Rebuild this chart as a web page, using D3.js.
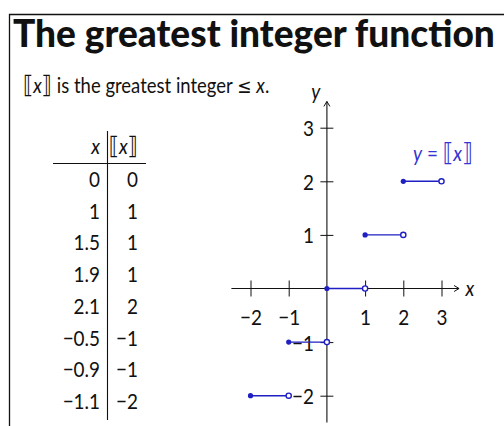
<!DOCTYPE html>
<html>
<head>
<meta charset="utf-8">
<script src="https://cdn.jsdelivr.net/npm/d3@7"></script>
<style>
  html, body { margin: 0; padding: 0; background: #fff; }
  svg { display: block; }
  text { font-family: Lato, "Open Sans", sans-serif; fill: #111; }
</style>
</head>
<body>
<svg id="chart" width="504" height="426"></svg>
<script>
// Table of sample inputs and their floor values
const tableX = [0, 1, 1.5, 1.9, 2.1, -0.5, -0.9, -1.1];
const tableFloor = [0, 1, 1, 1, 2, -1, -1, -2];

// Step pieces of y = [[x]]: each piece runs on [start, start + 1) at height level
const stepStart = [-2, -1, 0, 1, 2];
const stepLevel = [-2, -1, 0, 1, 2];

// Axis tick labels
const xTicks = [-2, -1, 1, 2, 3];
const yTicks = [-2, -1, 1, 2, 3];

const blue = "#1f1fc4";
const SX = 0.86;          // horizontal squeeze for a narrow, tall text face
const FS = 22;            // base font size for math / table text
const svg = d3.select("#chart");
const fmt = d3.format("");

// places a squeezed text element at (px, py)
function squeezed(parent, px, py, anchor) {
  return parent.append("text")
    .attr("transform", `translate(${px},${py}) scale(${SX},1)`)
    .attr("text-anchor", anchor || "start")
    .attr("font-size", FS);
}
function brackets(t, inner, size) {
  t.append("tspan").text("⟦").style("font-family", "DejaVu Sans").attr("font-size", size);
  t.append("tspan").text(inner).attr("font-style", "italic");
  t.append("tspan").text("⟧").style("font-family", "DejaVu Sans").attr("font-size", size);
}

// frame
svg.append("path").attr("d", "M9.5,426 V14.5 H504")
  .attr("fill", "none").attr("stroke", "#111").attr("stroke-width", 1.3);

// title, scaled horizontally to span the frame width
const title = svg.append("text").attr("x", 0).attr("y", 0)
  .attr("font-size", 38).attr("font-weight", 900)
  .style("font-family", "Lato, sans-serif")
  .text("The greatest integer function");
const titleW = title.node().getComputedTextLength();
title.attr("transform", `translate(13,47) scale(${Math.min(1.2, 482 / titleW)},1)`);

// definition line
const def = squeezed(svg, 23, 93).attr("font-size", 21.5);
brackets(def, "x", 24);
def.append("tspan").text(" is the greatest integer ");
def.append("tspan").text("≤").style("font-family", "DejaVu Sans").attr("font-size", 20);
def.append("tspan").text(" ");
def.append("tspan").text("x").attr("font-style", "italic");
def.append("tspan").text(".");

// ---- table ----
const rowY = d3.scalePoint().domain(d3.range(tableX.length)).range([187, 409]);
const colX = 100, colF = 138, divX = 107.5;
const table = svg.append("g");

table.append("line").attr("x1", divX).attr("x2", divX).attr("y1", 131).attr("y2", 420)
  .attr("stroke", "#111").attr("stroke-width", 1.1);
table.append("line").attr("x1", 53).attr("x2", 146).attr("y1", 163.5).attr("y2", 163.5)
  .attr("stroke", "#111").attr("stroke-width", 1.1);

squeezed(table, colX, 154, "end").attr("font-style", "italic").text("x");
brackets(squeezed(table, colF, 154, "end"), "x", 24);

tableX.forEach((d, i) => squeezed(table, colX, rowY(i), "end").text(fmt(d)));
tableFloor.forEach((d, i) => squeezed(table, colF, rowY(i), "end").text(fmt(d)));

// ---- graph ----
const x = d3.scaleLinear().domain([-2, 3]).range([250.5, 441.5]);
const y = d3.scaleLinear().domain([-2, 3]).range([395.7, 127.7]);
const g = svg.append("g");

// x axis
const xAxis = g.append("g").attr("transform", `translate(0,${y(0)})`)
  .call(d3.axisBottom(x).tickValues(xTicks).tickSize(8).tickFormat(fmt));
xAxis.select(".domain").remove();
xAxis.selectAll(".tick line").attr("y1", -8).attr("y2", 8).attr("stroke", "#111");
xAxis.selectAll(".tick text").attr("y", 0).attr("dy", 0)
  .attr("transform", `translate(0,36) scale(${SX},1)`)
  .attr("font-size", FS).attr("fill", "#111")
  .style("font-family", "Lato, sans-serif");
g.append("line").attr("x1", x(-2.5)).attr("x2", x(3.46)).attr("y1", y(0)).attr("y2", y(0))
  .attr("stroke", "#111").attr("stroke-width", 1.1);
g.append("path")
  .attr("d", `M${x(3.46) - 5},${y(0) - 3} L${x(3.46)},${y(0)} L${x(3.46) - 5},${y(0) + 3}`)
  .attr("fill", "none").attr("stroke", "#111").attr("stroke-width", 1);
squeezed(g, x(3.5) + 5, y(0) + 7).attr("font-style", "italic").text("x");

// y axis
const yAxis = g.append("g").attr("transform", `translate(${x(0)},0)`)
  .call(d3.axisLeft(y).tickValues(yTicks).tickSize(6.5).tickFormat(fmt));
yAxis.select(".domain").remove();
yAxis.selectAll(".tick line").attr("x1", -6.5).attr("x2", 6.5).attr("stroke", "#111");
yAxis.selectAll(".tick text").attr("x", 0).attr("dy", "0.36em")
  .attr("transform", `translate(-13,0) scale(${SX},1)`)
  .attr("font-size", FS).attr("fill", "#111")
  .style("font-family", "Lato, sans-serif");
g.append("line").attr("x1", x(0)).attr("x2", x(0)).attr("y1", y(-2.5)).attr("y2", y(3.49))
  .attr("stroke", "#111").attr("stroke-width", 1.1);
g.append("path")
  .attr("d", `M${x(0) - 3},${y(3.49) + 5} L${x(0)},${y(3.49)} L${x(0) + 3},${y(3.49) + 5}`)
  .attr("fill", "none").attr("stroke", "#111").attr("stroke-width", 1);
squeezed(g, x(0) - 11, y(3.49) - 2, "middle").attr("font-style", "italic").text("y");

// steps
const steps = stepStart.map((s, i) => ({ a: s, b: s + 1, v: stepLevel[i] }));
const sg = g.append("g");
sg.selectAll("line").data(steps).join("line")
  .attr("x1", d => x(d.a)).attr("x2", d => x(d.b))
  .attr("y1", d => y(d.v)).attr("y2", d => y(d.v))
  .attr("stroke", blue).attr("stroke-width", 1.4);
sg.selectAll("circle.closed").data(steps).join("circle").attr("class", "closed")
  .attr("cx", d => x(d.a)).attr("cy", d => y(d.v)).attr("r", 2.6).attr("fill", blue);
sg.selectAll("circle.open").data(steps).join("circle").attr("class", "open")
  .attr("cx", d => x(d.b)).attr("cy", d => y(d.v)).attr("r", 2.6)
  .attr("fill", "#fff").attr("stroke", blue).attr("stroke-width", 1.4);

// function label
const lab = squeezed(g, 413, 161).style("fill", "#3434d0");
lab.append("tspan").text("y").attr("font-style", "italic");
lab.append("tspan").text(" = ");
brackets(lab, "x", 25);
</script>
</body>
</html>
